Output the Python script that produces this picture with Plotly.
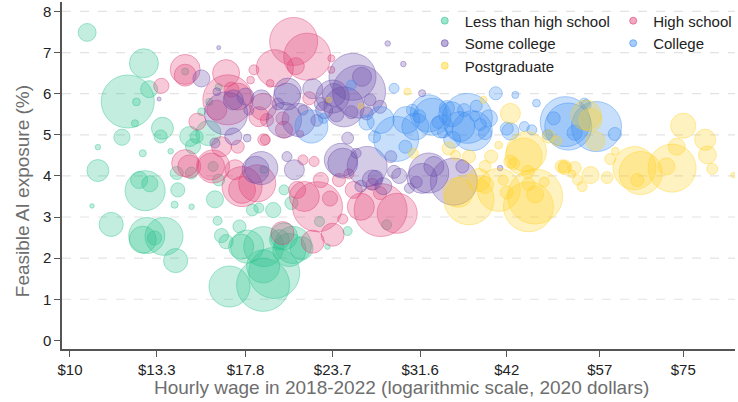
import plotly.graph_objects as go

# ---------------- data (wage in 2020 $, feasible AI exposure %, employment weight) -------------
wage_lths = [10.58, 12.75, 12.09, 12.97, 12.44, 12.38, 11.86, 10.96, 12.70, 13.92, 13.55, 13.47, 14.82, 15.16,
             15.76, 14.98, 15.41, 10.96, 12.80, 13.0, 12.55, 10.75, 11.45, 12.87, 12.70, 13.62, 13.2, 14.15,
             14.25, 14.1, 14.91, 16.24, 16.45, 16.7, 17.55, 16.89, 18.86, 19.56, 18.86, 20.56, 19.9, 21.4,
             17.45, 18.2, 18.6, 19.5, 24.9, 23.3, 20.2, 20.8, 17.9, 18.9, 22.7, 28.3, 20.7, 20.2,
             16.0, 14.2, 14.9, 16.3, 15.8, 16.3, 14.6, 18.9, 16.1]
ai_lths = [7.49, 6.74, 5.81, 6.11, 5.80, 5.28, 4.94, 4.70, 4.55, 4.60, 5.16, 4.96, 4.96, 4.95,
           5.04, 4.72, 5.56, 4.13, 3.64, 3.81, 3.90, 3.27, 2.82, 2.55, 2.45, 2.53, 2.49, 1.94,
           3.66, 3.30, 3.25, 2.91, 2.55, 2.40, 2.28, 1.31, 1.35, 1.64, 1.80, 2.20, 2.45, 2.24,
           2.77, 3.17, 3.22, 3.17, 2.66, 2.28, 2.53, 2.32, 2.28, 2.28, 2.89, 2.81, 3.34, 3.66,
           4.23, 4.07, 4.07, 3.90, 5.80, 6.16, 6.54, 4.15, 3.43]
emp_lths = [3.2, 8.4, 28.1, 2.9, 0.6, 0.5, 2.6, 0.3, 0.5, 0.3, 4.8, 1.7, 4.0, 1.7,
            6.3, 2.3, 0.6, 4.8, 16.0, 2.6, 2.9, 0.2, 5.8, 13.0, 7.3, 14.4, 2.0, 5.8,
            2.0, 0.5, 0.3, 0.8, 2.0, 2.0, 6.3, 16.8, 28.1, 26.0, 10.9, 10.9, 4.0, 5.3,
            1.7, 1.4, 1.0, 2.3, 0.8, 0.3, 7.3, 13.7, 10.9, 16.0, 1.0, 1.0, 1.7, 1.0,
            1.0, 1.7, 1.4, 1.4, 0.5, 0.5, 0.5, 0.6, 2.9]

wage_hs = [14.6, 14.6, 13.5, 16.7, 16.8, 15.2, 16.45, 14.8, 15.9, 17.2, 20.85, 21.8, 19.6, 21.0,
           18.3, 23.6, 23.6, 19.3, 18.1, 17.35, 18.6, 19.1, 20.2, 21.95, 21.3, 18.9, 21.5, 22.3,
           17.35, 18.5, 17.6, 22.55, 21.6, 21.1, 23.7, 22.2, 20.1, 22.8, 27.75, 29.3, 26.0, 25.4,
           27.7, 18.86, 20.1, 14.6, 16.0, 17.6, 19.0, 24.2, 25.0, 27.0, 23.5, 16.2, 17.0, 24.5]
ai_hs = [6.59, 6.45, 6.19, 6.50, 5.85, 5.32, 4.71, 4.23, 4.23, 4.15, 7.27, 6.90, 6.62, 6.67,
         6.58, 6.86, 6.58, 6.25, 6.33, 5.93, 5.44, 5.36, 5.12, 5.89, 5.02, 4.88, 4.39, 4.35,
         4.71, 3.82, 3.66, 3.25, 3.50, 3.66, 2.57, 2.40, 2.61, 3.90, 3.17, 3.09, 3.25, 3.66,
         3.58, 5.68, 5.40, 4.31, 4.23, 3.74, 4.88, 3.90, 4.05, 3.80, 3.45, 5.60, 6.10, 2.95]
emp_hs = [9.0, 4.8, 2.3, 7.3, 25.0, 2.9, 4.0, 5.3, 7.3, 4.0, 23.0, 22.1, 13.7, 2.9,
          1.0, 0.5, 0.5, 0.6, 0.6, 7.3, 4.0, 1.7, 2.9, 1.7, 0.5, 1.4, 1.0, 1.0,
          1.7, 13.7, 7.3, 25.0, 9.0, 2.9, 5.3, 5.3, 5.3, 2.3, 28.1, 16.0, 7.3, 2.9,
          1.7, 7.3, 1.7, 7.3, 10.9, 16.0, 1.0, 1.7, 1.0, 1.4, 2.3, 4.0, 2.3, 1.0]

wage_sc = [25.85, 26.1, 24.6, 20.45, 20.2, 22.2, 23.8, 27.7, 18.75, 17.8, 17.1, 21.5, 23.05, 26.5,
           24.9, 29.9, 28.4, 17.9, 20.4, 20.9, 18.75, 24.35, 26.55, 28.7, 32.5, 35.3, 31.8, 33.05,
           36.3, 31.8, 41.1, 15.4, 16.7, 17.1, 16.1, 18.4, 20.4, 21.2, 23.7, 25.3, 24.5, 16.3,
           13.4, 27.0, 28.0, 29.5, 26.0, 19.8, 22.5, 18.0, 25.6, 30.5, 16.2,
           24.0, 25.2, 26.8, 22.8, 27.3, 29.0, 31.2]
ai_sc = [6.05, 6.41, 5.68, 6.05, 5.36, 6.12, 5.97, 5.68, 5.85, 5.93, 5.85, 5.60, 5.60, 5.52,
         4.92, 6.72, 7.22, 4.92, 4.47, 4.15, 4.19, 4.39, 4.23, 4.47, 4.07, 3.86, 3.94, 4.23,
         4.23, 6.01, 4.19, 6.37, 5.52, 4.96, 4.80, 4.15, 5.93, 5.36, 5.93, 6.41, 4.31, 7.12,
         5.87, 3.90, 3.75, 4.00, 3.75, 5.75, 5.35, 5.60, 4.55, 3.70, 6.05,
         5.50, 5.55, 5.85, 5.75, 3.95, 4.10, 3.85]
emp_sc = [28.1, 3.6, 16.0, 7.3, 12.3, 4.0, 5.3, 1.7, 4.0, 2.9, 4.0, 1.0, 2.9, 1.7,
          1.4, 0.3, 0.3, 0.6, 1.0, 4.0, 10.9, 10.9, 16.0, 1.4, 16.0, 22.1, 9.0, 4.0,
          1.7, 0.5, 0.3, 2.9, 18.5, 2.9, 1.0, 7.3, 7.3, 10.9, 10.9, 22.1, 9.0, 0.1,
          0.1, 4.0, 2.9, 2.3, 1.4, 1.4, 1.4, 1.0, 1.0, 1.0, 0.6,
          2.3, 1.7, 1.4, 1.7, 2.3, 1.7, 1.4]

wage_col = [32.5, 36.9, 37.5, 39.6, 40.5, 43.2, 46.3, 42.5, 51.4, 45.6, 31.1, 33.9, 39.1, 35.1,
            56.4, 59.9, 54.5, 29.0, 27.75, 29.2, 30.2, 30.1, 22.1, 25.2, 23.0, 54.2, 50.9, 32.9,
            42.0, 44.5, 48.0, 34.5, 38.0, 27.2, 26.5, 36.0, 35.0,
            33.5, 36.5, 38.5, 31.5, 34.0, 37.8, 30.8, 52.5, 49.0]
ai_col = [5.52, 5.40, 5.10, 5.40, 6.01, 5.97, 5.77, 5.08, 5.20, 5.12, 5.20, 5.20, 5.04, 4.88,
          5.20, 5.02, 5.73, 6.13, 5.36, 4.90, 5.36, 4.71, 5.20, 6.21, 5.40, 5.77, 5.32, 5.44,
          5.15, 5.20, 5.00, 5.65, 5.70, 4.95, 5.30, 5.20, 5.50,
          5.30, 5.60, 5.25, 5.45, 5.05, 5.45, 5.60, 5.05, 5.40]
emp_col = [13.7, 25.0, 16.0, 2.9, 1.7, 0.5, 0.6, 2.9, 22.1, 1.0, 7.3, 5.3, 1.7, 2.9,
           25.0, 1.7, 1.0, 1.0, 7.3, 20.3, 7.3, 1.7, 10.9, 1.0, 1.0, 1.0, 25.0, 13.7,
           1.7, 1.0, 1.0, 2.3, 1.4, 1.4, 2.3, 9.0, 6.3,
           1.4, 1.7, 1.4, 1.7, 1.0, 1.0, 1.4, 2.3, 1.7]

wage_pg = [37.1, 45.1, 46.1, 40.9, 39.1, 42.0, 46.1, 45.1, 50.8, 53.8, 52.0, 39.1, 42.5, 44.4,
           42.5, 39.9, 43.0, 45.0, 50.8, 52.5, 53.0, 48.2, 49.5, 40.9, 38.9, 38.3, 63.9, 65.2,
           72.3, 73.4, 75.0, 80.6, 81.2, 82.5, 88.5, 59.0, 58.4, 55.3, 56.2, 55.3, 54.5, 44.8,
           37.1, 35.5, 30.3, 30.9, 34.7, 50.3, 71.0, 64.5, 60.0, 23.4, 26.0, 35.8, 47.5, 41.5]
ai_pg = [3.42, 3.25, 3.50, 3.66, 3.78, 3.60, 3.55, 3.80, 4.23, 3.74, 4.05, 4.23, 4.35, 4.47,
         5.52, 4.47, 4.30, 4.10, 4.19, 4.19, 3.90, 4.96, 4.85, 4.75, 5.85, 3.90, 4.19, 4.07,
         4.19, 4.71, 5.22, 4.88, 4.51, 4.17, 4.02, 4.41, 3.96, 4.02, 4.85, 5.36, 5.48, 4.59,
         4.47, 4.50, 6.05, 4.55, 4.67, 4.23, 4.23, 3.90, 4.60, 5.85, 5.70, 3.60, 3.85, 3.90]
emp_pg = [25.0, 25.0, 30.3, 18.5, 2.9, 1.7, 2.9, 1.7, 1.7, 1.0, 0.6, 1.4, 1.7, 13.7,
          4.0, 1.7, 1.4, 1.7, 1.7, 1.7, 1.0, 1.7, 1.0, 0.6, 0.5, 5.3, 18.5, 18.5,
          23.0, 2.9, 6.3, 4.4, 3.2, 1.2, 0.3, 1.2, 1.4, 2.9, 3.6, 5.3, 9.0, 16.0,
          1.7, 1.0, 0.5, 1.0, 1.7, 1.7, 2.9, 1.7, 0.6, 0.3, 0.3, 9.0, 1.0, 1.0]

groups = ["Less than high school", "High school", "Some college", "College", "Postgraduate"]
colors = ["43,196,143", "224,62,118", "106,76,171", "60,142,243", "255,211,35"]
wages = [wage_lths, wage_hs, wage_sc, wage_col, wage_pg]
ais = [ai_lths, ai_hs, ai_sc, ai_col, ai_pg]
emps = [emp_lths, emp_hs, emp_sc, emp_col, emp_pg]

tick_vals = [10, 13.3, 17.8, 23.7, 31.6, 42, 57, 75]
tick_text = ["$10", "$13.3", "$17.8", "$23.7", "$31.6", "$42", "$57", "$75"]
y_ticks = [0, 1, 2, 3, 4, 5, 6, 7, 8]

fig = go.Figure()
for name, col, xs, ys, ss in zip(groups, colors, wages, ais, emps):
    fig.add_trace(go.Scatter(
        x=xs, y=ys, mode="markers", name=name, showlegend=False,
        marker=dict(size=ss, sizemode="area", sizeref=0.02, sizemin=2,
                    color=f"rgba({col},0.4)",
                    line=dict(color=f"rgba({col},0.65)", width=1)),
        hoverinfo="skip"))

legend_of = {"Less than high school": "legend", "Some college": "legend", "Postgraduate": "legend",
             "High school": "legend2", "College": "legend2"}
for name, col in zip(groups, colors):
    fig.add_trace(go.Scatter(
        x=[None], y=[None], mode="markers", name=name, legend=legend_of[name],
        marker=dict(size=7, color=f"rgba({col},0.45)",
                    line=dict(color=f"rgba({col},0.6)", width=1))))

# dashed gridlines (none at 0)
for v in y_ticks[1:]:
    fig.add_shape(type="line", xref="paper", yref="y", x0=0, x1=1, y0=v, y1=v,
                  line=dict(color="#e3e3e3", width=1.2, dash="dash"), layer="below")

font = "Liberation Sans, Arial, sans-serif"
fig.update_layout(
    width=738, height=402,
    margin=dict(l=62, r=1, t=2, b=53),
    plot_bgcolor="white", paper_bgcolor="white",
    font=dict(family=font, size=15, color="#222"),
    xaxis=dict(type="log", range=[0.9886, 1.9489], tickvals=tick_vals, ticktext=tick_text,
               showgrid=False, zeroline=False, showline=True, linecolor="#555", linewidth=1.5,
               ticks="outside", ticklen=6, tickcolor="#555", tickwidth=1.2,
               tickfont=dict(size=15, color="#222")),
    yaxis=dict(range=[-0.21, 8.23], tickvals=y_ticks, showgrid=False, zeroline=False,
               showline=True, linecolor="#555", linewidth=1.5,
               ticks="outside", ticklen=6, tickcolor="#555", tickwidth=1.2,
               tickfont=dict(size=15, color="#222")),
    legend=dict(x=0.539, y=0.993, xanchor="left", yanchor="top", bgcolor="rgba(0,0,0,0)",
                font=dict(size=15, color="#222"), tracegroupgap=0),
    legend2=dict(x=0.819, y=0.993, xanchor="left", yanchor="top", bgcolor="rgba(0,0,0,0)",
                 font=dict(size=15, color="#222"), tracegroupgap=0),
    annotations=[
        dict(text="Feasible AI exposure (%)", xref="paper", yref="paper",
             x=-0.0593, y=0.455, xanchor="center", yanchor="middle", textangle=-90,
             showarrow=False, font=dict(size=19, color="#6e6e6e", family=font)),
        dict(text="Hourly wage in 2018-2022 (logarithmic scale, 2020 dollars)", xref="paper", yref="paper",
             x=0.505, y=-0.111, xanchor="center", yanchor="middle",
             showarrow=False, font=dict(size=19, color="#6e6e6e", family=font)),
    ],
)

fig.write_html("out.html", config={"displayModeBar": False},
               post_script="document.body.style.margin='0px';document.body.style.overflow='hidden';")
